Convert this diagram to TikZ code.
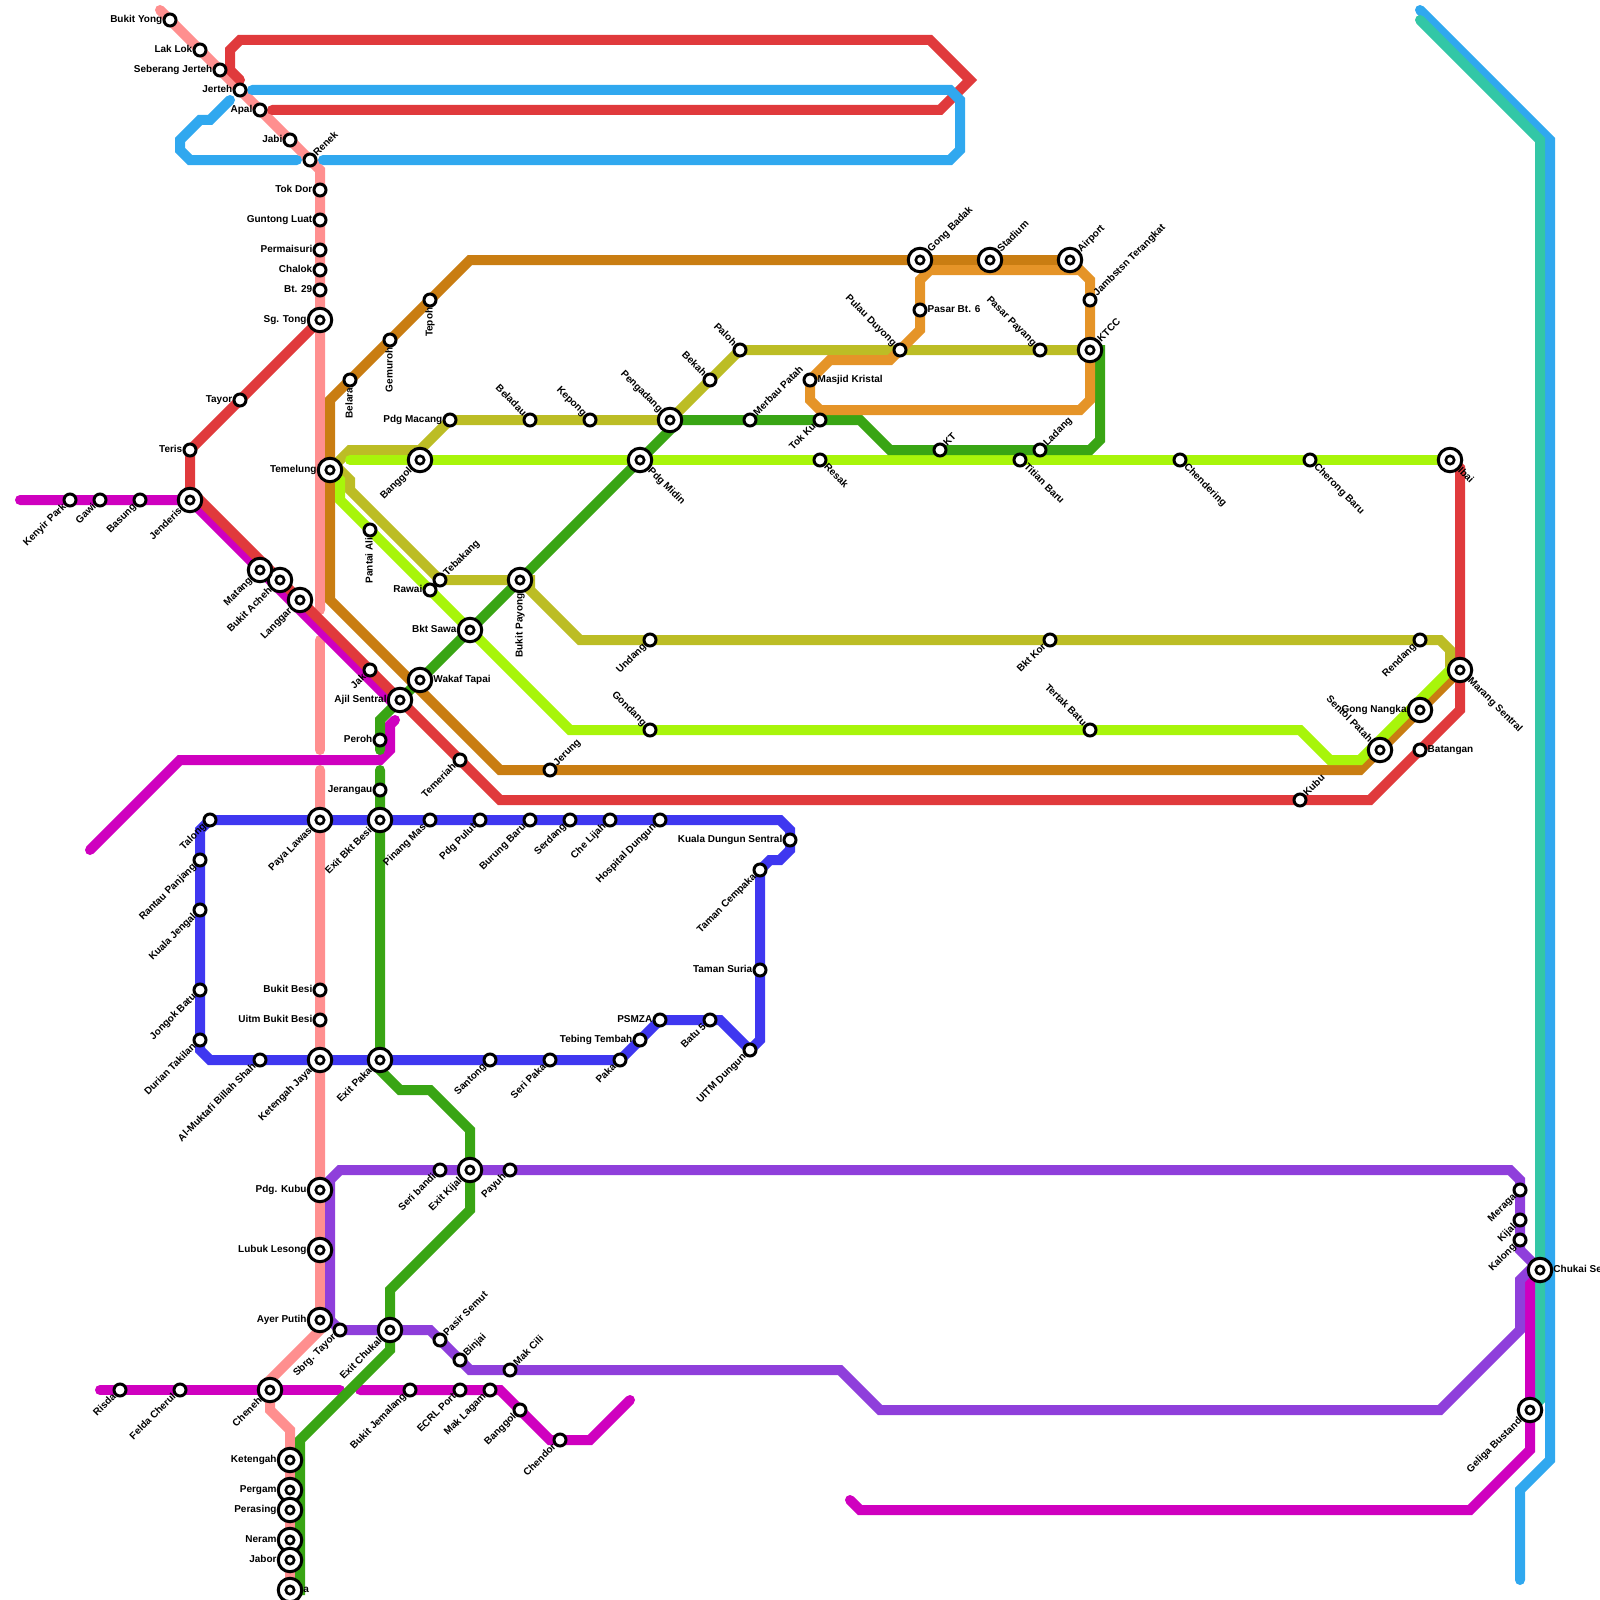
\documentclass[tikz,border=0pt]{standalone}
\usepackage{fontspec}
\setmainfont{Liberation Sans}
\usetikzlibrary{backgrounds}

\definecolor{lnred}{HTML}{E03A3C}
\definecolor{lnpink}{HTML}{FF8F8F}
\definecolor{lnsky}{HTML}{30A8EF}
\definecolor{lnteal}{HTML}{33C7A6}
\definecolor{lnmag}{HTML}{CF00BF}
\definecolor{lnbrown}{HTML}{C97D12}
\definecolor{lnolive}{HTML}{BCBD25}
\definecolor{lnlime}{HTML}{A8F50A}
\definecolor{lngreen}{HTML}{39A514}
\definecolor{lnorange}{HTML}{E59428}
\definecolor{lnindigo}{HTML}{3F37F0}
\definecolor{lnpurple}{HTML}{8F3FDB}

\begin{document}
\begin{tikzpicture}[
    x=1pt, y=-1pt,
    metro/.style={line width=10pt, line cap=round, line join=miter},
    redln/.style={metro, draw=lnred},
    pinkln/.style={metro, draw=lnpink},
    skyln/.style={metro, draw=lnsky},
    tealln/.style={metro, draw=lnteal},
    magln/.style={metro, draw=lnmag},
    brownln/.style={metro, draw=lnbrown},
    oliveln/.style={metro, draw=lnolive},
    limeln/.style={metro, draw=lnlime},
    greenln/.style={metro, draw=lngreen},
    orangeln/.style={metro, draw=lnorange},
    indigoln/.style={metro, draw=lnindigo},
    purpleln/.style={metro, draw=lnpurple},
    stop/.style={circle, draw=black, line width=3pt, fill=white, inner sep=0pt,
        minimum size=12pt, label distance=2pt},
    hub/.style={circle, draw=black, line width=3pt, fill=white, inner sep=0pt,
        minimum size=23.5pt, label distance=3.8pt,
        path picture={\draw[line width=2.6pt, fill=white] (path picture bounding box.center) circle (4.2pt);}},
    lbl/.style={font=\bfseries\fontsize{10}{12}\selectfont, inner sep=0pt,
        text height=7.2pt, text depth=1.8pt, text=black},
    lw/.style={label={[lbl, anchor=east]180:#1}},
    le/.style={label={[lbl, anchor=west]0:#1}},
    lsw/.style={label={[lbl, rotate=45, anchor=east]225:#1}},
    lne/.style={label={[lbl, rotate=45, anchor=west]45:#1}},
    lnw/.style={label={[lbl, rotate=-45, anchor=east]135:#1}},
    lse/.style={label={[lbl, rotate=-45, anchor=west]-45:#1}},
    ldn/.style={label={[lbl, rotate=90, anchor=east]270:#1}}
]
\useasboundingbox (0,0) rectangle (1600,1600);

% --- Free line ends ---
\coordinate (pinktop) at (160,10);
\coordinate (pinkgapa) at (320,610);
\coordinate (pinkgapb) at (320,640);
\coordinate (pinkgapc) at (320,750);
\coordinate (pinkgapd) at (320,770);
\coordinate (redtopa) at (240,80);
\coordinate (redtopb) at (272,110);
\coordinate (skya) at (252,90);
\coordinate (skyb) at (323,160);
\coordinate (skyc) at (297,160);
\coordinate (skyd) at (230,100);
\coordinate (skye) at (1420,10);
\coordinate (skyf) at (1520,1580);
\coordinate (tealtop) at (1420,20);
\coordinate (magwest) at (20,500);
\coordinate (magb) at (395,720);
\coordinate (magc) at (90,850);
\coordinate (magd) at (100,1390);
\coordinate (mage) at (340,1390);
\coordinate (magf) at (360,1390);
\coordinate (magg) at (630,1400);
\coordinate (magh) at (850,1500);
\coordinate (limestart) at (350,460);
\coordinate (greengapa) at (380,750);
\coordinate (greengapb) at (380,770);

% --- Pink line stations ---
\node[stop, lw=Bukit Yong] (bukityong) at (170,20) {};
\node[stop, lw=Lak Lok] (laklok) at (200,50) {};
\node[stop, lw=Seberang Jerteh] (seberang) at (220,70) {};
\node[stop, lw=Jerteh] (jerteh) at (240,90) {};
\node[stop, lw=Apal] (apal) at (260,110) {};
\node[stop, lw=Jabi] (jabi) at (290,140) {};
\node[stop, lne=Renek] (renek) at (310,160) {};
\node[stop, lw=Tok Dor] (tokdor) at (320,190) {};
\node[stop, lw=Guntong Luat] (guntong) at (320,220) {};
\node[stop, lw=Permaisuri] (permaisuri) at (320,250) {};
\node[stop, lw=Chalok] (chalok) at (320,270) {};
\node[stop, lw=Bt. 29] (bt) at (320,290) {};
\node[hub, lw=Sg. Tong] (sgtong) at (320,320) {};
\node[hub, lsw=Paya Lawas] (payalawas) at (320,820) {};
\node[stop, lw=Bukit Besi] (bukitbesi) at (320,990) {};
\node[stop, lw=Uitm Bukit Besi] (uitm) at (320,1020) {};
\node[hub, lsw=Ketengah Jaya] (ketengahjaya) at (320,1060) {};
\node[hub, lw=Pdg. Kubu] (pdgkubu) at (320,1190) {};
\node[hub, lw=Lubuk Lesong] (lubuk) at (320,1250) {};
\node[hub, lw=Ayer Putih] (ayerputih) at (320,1320) {};
\node[hub, lsw=Cheneh] (cheneh) at (270,1390) {};
\node[hub, lw=Ketengah] (ketengah) at (290,1460) {};
\node[hub, lw=Pergam] (pergam) at (290,1490) {};
\node[hub, lw=Perasing] (perasing) at (290,1510) {};
\node[hub, lw=Neram] (neram) at (290,1540) {};
\node[hub, lw=Jabor] (jabor) at (290,1560) {};
\node[hub, le=a] (stationa) at (290,1590) {};

% --- Red line stations ---
\node[stop, lw=Tayor] (tayor) at (240,400) {};
\node[stop, lw=Teris] (teris) at (190,450) {};
\node[stop, lsw=Jak] (jak) at (370,670) {};
\node[hub, lw=Ajil Sentral] (ajil) at (400,700) {};
\node[stop, lsw=Temeriah] (temeriah) at (460,760) {};
\node[stop, lne=Kubu] (kubu) at (1300,800) {};
\node[stop, le=Batangan] (batangan) at (1420,750) {};
\node[hub, lse=Marang Sentral] (marang) at (1460,670) {};
\node[hub, lse=Ibai] (ibai) at (1450,460) {};
\node[hub, lsw=Bukit Acheh] (bukitacheh) at (280,580) {};
\node[hub, lsw=Langgar] (langgar) at (300,600) {};

% --- Magenta line stations ---
\node[stop, lsw=Kenyir Park] (kenyir) at (70,500) {};
\node[stop, lsw=Gawi] (gawi) at (100,500) {};
\node[stop, lsw=Basung] (basung) at (140,500) {};
\node[hub, lsw=Jenderis] (jenderis) at (190,500) {};
\node[hub, lsw=Matang] (matang) at (260,570) {};
\node[stop, lsw=Risda] (risda) at (120,1390) {};
\node[stop, lsw=Felda Cherul] (felda) at (180,1390) {};
\node[stop, lsw=Bukit Jemalang] (jemalang) at (410,1390) {};
\node[stop, lsw=ECRL Port] (ecrl) at (460,1390) {};
\node[stop, lsw=Mak Lagam] (maklagam) at (490,1390) {};
\node[stop, lsw=Banggol] (banggolb) at (520,1410) {};
\node[stop, lsw=Chendor] (chendor) at (560,1440) {};
\node[hub, lsw=Geliga Bustand] (geliga) at (1530,1410) {};

% --- Brown line stations ---
\node[hub, lw=Temelung] (temelung) at (330,470) {};
\node[stop, ldn=Belara] (belara) at (350,380) {};
\node[stop, ldn=Gemuroh] (gemuroh) at (390,340) {};
\node[stop, ldn=Tepoh] (tepoh) at (430,300) {};
\node[hub, lne=Gong Badak] (gongbadak) at (920,260) {};
\node[hub, lne=Stadium] (stadium) at (990,260) {};
\node[hub, lne=Airport] (airport) at (1070,260) {};
\node[stop, lne=Jerung] (jerung) at (550,770) {};
\node[hub, lnw=Sentol Patah] (sentol) at (1380,750) {};
\node[hub, lw=Gong Nangka] (gongnangka) at (1420,710) {};

% --- Olive line stations ---
\node[stop, lw=Pdg Macang] (pdgmacang) at (450,420) {};
\node[stop, lnw=Beladau] (beladau) at (530,420) {};
\node[stop, lnw=Kepong] (kepong) at (590,420) {};
\node[hub, lnw=Pengadang] (pengadang) at (670,420) {};
\node[stop, lnw=Bekah] (bekah) at (710,380) {};
\node[stop, lnw=Paloh] (paloh) at (740,350) {};
\node[stop, lnw=Pulau Duyong] (duyong) at (900,350) {};
\node[stop, lnw=Pasar Payang] (payang) at (1040,350) {};
\node[hub, lne=KTCC] (ktcc) at (1090,350) {};
\node[stop, lne=Tebakang] (tebakang) at (440,580) {};
\node[hub, ldn=Bukit Payong] (bktpayong) at (520,580) {};
\node[stop, lsw=Undang] (undang) at (650,640) {};
\node[stop, lsw=Bkt Kor] (bktkor) at (1050,640) {};
\node[stop, lsw=Rendang] (rendang) at (1420,640) {};

% --- Lime line stations ---
\node[hub, lsw=Banggol] (banggol) at (420,460) {};
\node[hub, lse=Pdg Midin] (pdgmidin) at (640,460) {};
\node[stop, lse=Resak] (resak) at (820,460) {};
\node[stop, lse=Titian Baru] (titian) at (1020,460) {};
\node[stop, lse=Chendering] (chendering) at (1180,460) {};
\node[stop, lse=Cherong Baru] (cherong) at (1310,460) {};
\node[stop, ldn=Pantai Ali] (pantaiali) at (370,530) {};
\node[stop, lw=Rawai] (rawai) at (430,590) {};
\node[hub, lw=Bkt Sawa] (bktsawa) at (470,630) {};
\node[stop, lnw=Gondang] (gondang) at (650,730) {};
\node[stop, lnw=Tertak Batu] (tertak) at (1090,730) {};

% --- Green line stations ---
\node[stop, lne=Ladang] (ladang) at (1040,450) {};
\node[stop, lne=KT] (kt) at (940,450) {};
\node[stop, lsw=Tok Ku] (tokku) at (820,420) {};
\node[stop, lne=Merbau Patah] (merbau) at (750,420) {};
\node[hub, le=Wakaf Tapai] (wakaf) at (420,680) {};
\node[stop, lw=Peroh] (peroh) at (380,740) {};
\node[stop, lw=Jerangau] (jerangau) at (380,790) {};
\node[hub, lsw=Exit Bkt Besi] (exitbesi) at (380,820) {};
\node[hub, lsw=Exit Paka] (exitpaka) at (380,1060) {};
\node[hub, lsw=Exit Kijal] (exitkijal) at (470,1170) {};
\node[hub, lsw=Exit Chukal] (exitchukal) at (390,1330) {};

% --- Orange line stations ---
\node[stop, le=Pasar Bt. 6] (pasarbt) at (920,310) {};
\node[stop, lne=Jambstsn Terangkat] (jambstsn) at (1090,300) {};
\node[stop, le=Masjid Kristal] (masjid) at (810,380) {};

% --- Indigo line stations ---
\node[stop, lsw=Talong] (talong) at (210,820) {};
\node[stop, lsw=Pinang Mas] (pinangmas) at (430,820) {};
\node[stop, lsw=Pdg Pulut] (pdgpulut) at (480,820) {};
\node[stop, lsw=Burung Baru] (burung) at (530,820) {};
\node[stop, lsw=Serdang] (serdang) at (570,820) {};
\node[stop, lsw=Che Lijah] (chelijah) at (610,820) {};
\node[stop, lsw=Hospital Dungun] (hospital) at (660,820) {};
\node[stop, lw=Kuala Dungun Sentral] (kualadungun) at (790,840) {};
\node[stop, lsw=Taman Cempaka] (cempaka) at (760,870) {};
\node[stop, lw=Taman Suria] (suria) at (760,970) {};
\node[stop, lsw=UITM Dungun] (uitmdungun) at (750,1050) {};
\node[stop, lsw=Batu 5] (batu) at (710,1020) {};
\node[stop, lw=PSMZA] (psmza) at (660,1020) {};
\node[stop, lw=Tebing Tembah] (tebing) at (640,1040) {};
\node[stop, lsw=Paka] (paka) at (620,1060) {};
\node[stop, lsw=Seri Paka] (seripaka) at (550,1060) {};
\node[stop, lsw=Santong] (santong) at (490,1060) {};
\node[stop, lsw=Al-Muktafi Billah Shah] (muktafi) at (260,1060) {};
\node[stop, lsw=Durian Takilan] (durian) at (200,1040) {};
\node[stop, lsw=Jongok Batu] (jongok) at (200,990) {};
\node[stop, lsw=Kuala Jengal] (jengal) at (200,910) {};
\node[stop, lsw=Rantau Panjang] (rantau) at (200,860) {};

% --- Purple line stations ---
\node[stop, lsw=Seri bandi] (seribandi) at (440,1170) {};
\node[stop, lsw=Payuh] (payuh) at (510,1170) {};
\node[stop, lsw=Meraga] (meraga) at (1520,1190) {};
\node[stop, lsw=Kijal] (kijal) at (1520,1220) {};
\node[stop, lsw=Kalong] (kalong) at (1520,1240) {};
\node[hub, le=Chukai Se] (chukai) at (1540,1270) {};
\node[stop, lsw=Sbrg. Tayor] (sbrgtayor) at (340,1330) {};
\node[stop, lne=Pasir Semut] (pasirsemut) at (440,1340) {};
\node[stop, lne=Binjai] (binjai) at (460,1360) {};
\node[stop, lne=Mak Cili] (makcili) at (510,1370) {};

% --- Lines ---
\begin{scope}[on background layer]
\draw[skyln] (skye) -- (1550,140) -- (1550,1460) -- (1520,1490) -- (skyf);
\draw[tealln] (tealtop) -- (1540,140) -- (chukai.center) -- (1540,1400) -- (geliga.center);

\draw[pinkln] (pinktop) -- (bukityong.center) -- (laklok.center) -- (seberang.center) -- (jerteh.center)
    -- (apal.center) -- (jabi.center) -- (renek.center) -- (320,170) -- (tokdor.center) -- (guntong.center)
    -- (permaisuri.center) -- (chalok.center) -- (bt.center) -- (sgtong.center) -- (pinkgapa);
\draw[pinkln] (pinkgapb) -- (pinkgapc);
\draw[pinkln] (pinkgapd) -- (payalawas.center) -- (bukitbesi.center) -- (uitm.center) -- (ketengahjaya.center)
    -- (pdgkubu.center) -- (lubuk.center) -- (ayerputih.center) -- (320,1330) -- (270,1380) -- (cheneh.center)
    -- (270,1410) -- (290,1430) -- (ketengah.center) -- (pergam.center) -- (perasing.center) -- (neram.center)
    -- (jabor.center) -- (stationa.center);

\draw[magln] (magwest) -- (kenyir.center) -- (gawi.center) -- (basung.center) -- (jenderis.center)
    -- (matang.center) -- (390,700) -- (ajil.center);
\draw[magln] (magb) -- (390,725) -- (390,750) -- (380,760) -- (180,760) -- (magc);
\draw[magln] (magd) -- (risda.center) -- (felda.center) -- (cheneh.center) -- (mage);
\draw[magln] (magf) -- (jemalang.center) -- (ecrl.center) -- (maklagam.center) -- (500,1390)
    -- (banggolb.center) -- (550,1440) -- (chendor.center) -- (590,1440) -- (magg);
\draw[magln] (chukai.center) -- (1530,1280) -- (geliga.center) -- (1530,1450) -- (1470,1510) -- (860,1510) -- (magh);

\draw[redln] (redtopa) -- (230,70) -- (230,50) -- (240,40) -- (930,40) -- (970,80) -- (940,110) -- (redtopb);
\draw[redln] (sgtong.center) -- (tayor.center) -- (teris.center) -- (190,490) -- (bukitacheh.center)
    -- (langgar.center) -- (jak.center) -- (ajil.center) -- (temeriah.center) -- (500,800) -- (kubu.center)
    -- (1370,800) -- (batangan.center) -- (1460,710) -- (marang.center) -- (1460,468) -- (1452,460) -- (ibai.center);

\draw[skyln] (skya) -- (950,90) -- (960,100) -- (960,150) -- (950,160) -- (skyb);
\draw[skyln] (skyc) -- (190,160) -- (180,150) -- (180,140) -- (200,120) -- (210,120) -- (skyd);

\draw[brownln] (airport.center) -- (stadium.center) -- (gongbadak.center) -- (470,260) -- (tepoh.center)
    -- (gemuroh.center) -- (belara.center) -- (330,400) -- (temelung.center) -- (330,600) -- (500,770)
    -- (jerung.center) -- (1360,770) -- (sentol.center) -- (gongnangka.center) -- (marang.center);

\draw[purpleln] (sbrgtayor.center) -- (330,1320) -- (330,1180) -- (340,1170) -- (seribandi.center)
    -- (exitkijal.center) -- (payuh.center) -- (1510,1170) -- (1520,1180) -- (meraga.center) -- (kijal.center)
    -- (kalong.center) -- (1520,1250) -- (chukai.center);
\draw[purpleln] (sbrgtayor.center) -- (exitchukal.center) -- (430,1330) -- (pasirsemut.center) -- (binjai.center)
    -- (470,1370) -- (makcili.center) -- (840,1370) -- (880,1410) -- (1440,1410) -- (1520,1330) -- (1520,1280)
    -- (1530,1270) -- (chukai.center);

\draw[indigoln] (talong.center) -- (payalawas.center) -- (exitbesi.center) -- (pinangmas.center) -- (pdgpulut.center)
    -- (burung.center) -- (serdang.center) -- (chelijah.center) -- (hospital.center) -- (780,820) -- (790,830)
    -- (kualadungun.center) -- (790,850) -- (780,860) -- (770,860) -- (cempaka.center) -- (suria.center)
    -- (760,1040) -- (uitmdungun.center) -- (720,1020) -- (batu.center) -- (psmza.center) -- (tebing.center)
    -- (paka.center) -- (seripaka.center) -- (santong.center) -- (exitpaka.center) -- (ketengahjaya.center)
    -- (muktafi.center) -- (210,1060) -- (200,1050) -- (durian.center) -- (jongok.center) -- (jengal.center)
    -- (rantau.center) -- (200,830) -- cycle;

\draw[oliveln] (temelung.center) -- (350,450) -- (420,450) -- (pdgmacang.center) -- (beladau.center)
    -- (kepong.center) -- (pengadang.center) -- (bekah.center) -- (paloh.center) -- (duyong.center)
    -- (payang.center) -- (ktcc.center);
\draw[oliveln] (temelung.center) -- (340,470) -- (350,480) -- (350,490) -- (tebakang.center) -- (bktpayong.center)
    -- (530,580) -- (530,590) -- (580,640) -- (undang.center) -- (bktkor.center) -- (rendang.center)
    -- (1440,640) -- (1450,650) -- (1450,670) -- (marang.center);

\draw[limeln] (limestart) -- (banggol.center) -- (pdgmidin.center) -- (resak.center) -- (titian.center)
    -- (chendering.center) -- (cherong.center) -- (ibai.center);
\draw[limeln] (temelung.center) -- (340,480) -- (340,500) -- (pantaiali.center) -- (rawai.center) -- (bktsawa.center)
    -- (570,730) -- (gondang.center) -- (tertak.center) -- (1300,730) -- (1330,760) -- (1360,760) -- (1450,670)
    -- (marang.center);

\draw[greenln] (ktcc.center) -- (1100,350) -- (1100,440) -- (1090,450) -- (ladang.center) -- (kt.center)
    -- (890,450) -- (860,420) -- (tokku.center) -- (merbau.center) -- (680,420) -- (pdgmidin.center)
    -- (bktpayong.center) -- (bktsawa.center) -- (wakaf.center) -- (ajil.center) -- (380,720) -- (peroh.center)
    -- (greengapa);
\draw[greenln] (greengapb) -- (jerangau.center) -- (exitbesi.center) -- (exitpaka.center) -- (380,1070) -- (400,1090)
    -- (430,1090) -- (470,1130) -- (exitkijal.center) -- (470,1210) -- (390,1290) -- (exitchukal.center)
    -- (390,1350) -- (300,1440) -- (300,1590) -- (stationa.center);

\draw[orangeln] (duyong.center) -- (920,330) -- (pasarbt.center) -- (920,280) -- (930,270) -- (1080,270)
    -- (1090,280) -- (jambstsn.center) -- (ktcc.center) -- (1090,400) -- (1080,410) -- (820,410) -- (810,400)
    -- (masjid.center) -- (830,360) -- (890,360) -- cycle;
\end{scope}

\end{tikzpicture}
\end{document}
